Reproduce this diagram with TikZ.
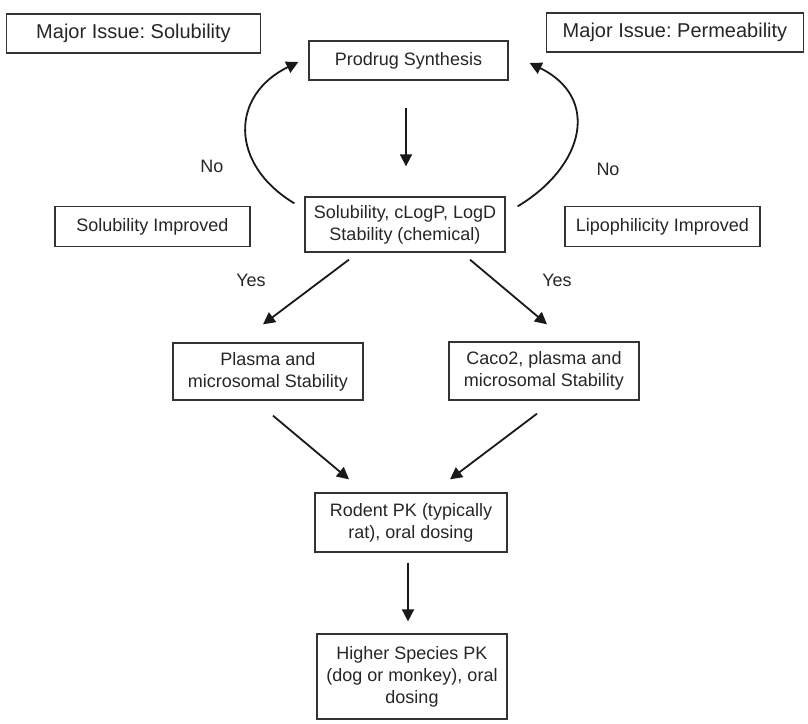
\documentclass[tikz,border=0pt]{standalone}
\usepackage{fontspec}
\setmainfont{Liberation Sans}
\usetikzlibrary{arrows.meta}
\frenchspacing
\begin{document}
\begin{tikzpicture}[x=1pt,y=-1pt,
  box/.style={draw=black!80, line width=1.3pt, inner sep=0pt, align=center, text=black!85,
    font=\fontsize{18}{22}\selectfont},
  headbox/.style={box, font=\fontsize{20}{24}\selectfont},
  lbl/.style={text=black!85, font=\fontsize{18}{22}\selectfont},
  arr/.style={draw=black!90, line width=1.8pt, -{Triangle[length=12pt,width=12pt]}}]
\useasboundingbox (0,0) rectangle (808,723);
\node [headbox, minimum width=254pt, minimum height=39pt] (solissue) at (133.5,33.5) {Major Issue: Solubility};
\node [headbox, minimum width=257pt, minimum height=39pt] (permissue) at (675,32.5) {Major Issue: Permeability};
\node [box, minimum width=199pt, minimum height=39pt] (prodrug) at (408.5,60.5) {Prodrug Synthesis};
\node [box, minimum width=200pt, minimum height=55pt] (screen) at (405,224.5) {Solubility, cLogP, LogD\\Stability (chemical)};
\node [box, minimum width=195pt, minimum height=40pt] (solimp) at (152.5,226.5) {Solubility Improved};
\node [box, minimum width=195pt, minimum height=40pt] (lipimp) at (662.5,226.5) {Lipophilicity Improved};
\node [box, minimum width=190pt, minimum height=57pt] (plasma) at (268,371.5) {Plasma and\\microsomal Stability};
\node [box, minimum width=190pt, minimum height=58pt] (caco) at (544,371) {Caco2, plasma and\\microsomal Stability};
\node [box, minimum width=192pt, minimum height=59pt] (rodent) at (411,522.5) {Rodent PK (typically\\rat), oral dosing};
\node [box, minimum width=190pt, minimum height=85pt] (higher) at (412,676.5) {Higher Species PK\\(dog or monkey), oral\\dosing};
\node [lbl] (noleft) at (212,166) {No};
\node [lbl] (noright) at (608,169) {No};
\node [lbl] (yesleft) at (251,280) {Yes};
\node [lbl] (yesright) at (557,280) {Yes};
\draw [arr, shorten <=27pt, shorten >=30pt] (prodrug.south -| 406,0) -- (screen.north -| 406,0);
\draw [arr] ([xshift=-10pt,yshift=-7pt]screen.north west) to[out=149, in=206, looseness=1.37] ([xshift=-10pt,yshift=-1.5pt]prodrug.west);
\draw [arr] ([xshift=12pt,yshift=-10pt]screen.north east) to[out=31, in=-26, looseness=1.4] ([xshift=21pt,yshift=-2.5pt]prodrug.east);
\draw [arr] ([xshift=-56pt,yshift=-7pt]screen.south) -- ([xshift=-5pt,yshift=18pt]plasma.north);
\draw [arr] ([xshift=65pt,yshift=-7pt]screen.south) -- ([xshift=3pt,yshift=17pt]caco.north);
\draw [arr] ([xshift=5pt,yshift=-15pt]plasma.south) -- ([xshift=-62pt,yshift=13pt]rodent.north);
\draw [arr] ([xshift=-7pt,yshift=-13pt]caco.south) -- ([xshift=39pt,yshift=13pt]rodent.north);
\draw [arr, shorten <=10pt, shorten >=12pt] (rodent.south -| 408,0) -- (higher.north -| 408,0);
\end{tikzpicture}
\end{document}
